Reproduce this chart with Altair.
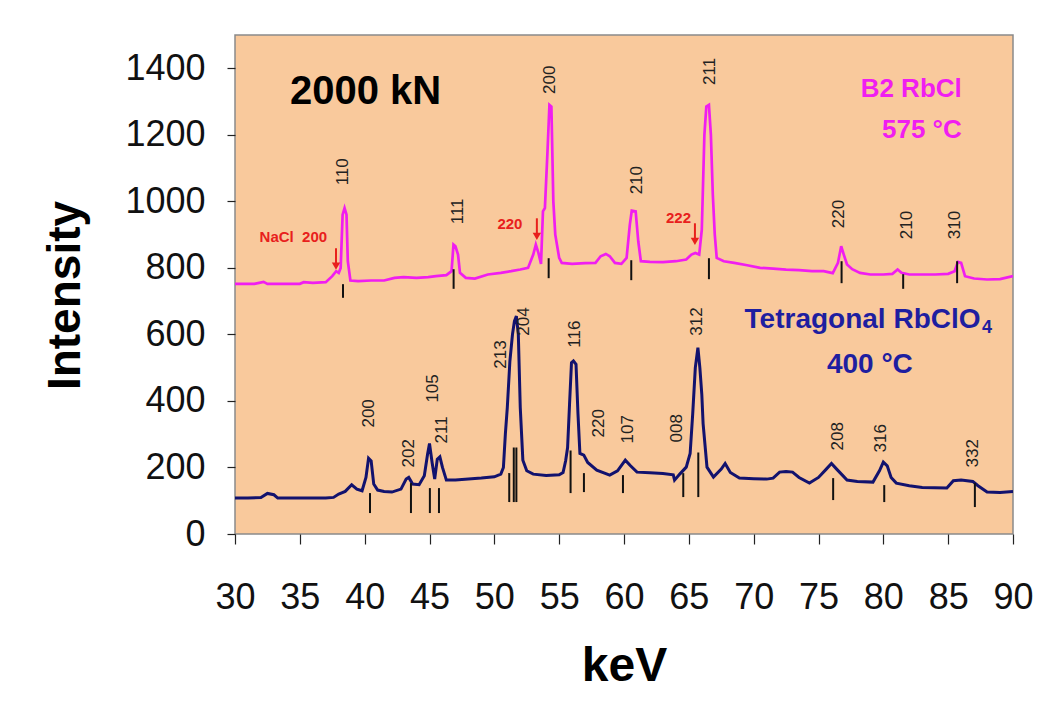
import altair as alt
import pandas as pd

# ---------------- data ----------------
# B2 RbCl, 575 C (magenta)
mag_kev = [30.0, 31.5, 32.2, 32.5, 35.0, 35.3, 36.0, 37.0, 37.5, 37.8, 38.0, 38.15, 38.3, 38.45, 38.6, 38.7, 38.9,
           39.5, 40.5, 41.5, 42.3, 43.0, 44.0, 44.9, 45.5, 46.3, 46.7, 46.85, 47.0, 47.2, 47.35, 47.8, 48.5, 49.5,
           50.5, 51.3, 52.0, 52.6, 53.0, 53.2, 53.4, 53.6, 53.75, 53.9, 54.1, 54.25, 54.4, 54.55, 54.7, 55.0, 55.2,
           56.0, 57.0, 57.8, 58.2, 58.6, 58.9, 59.3, 59.8, 60.2, 60.45, 60.6, 60.9, 61.1, 61.3, 62.0, 63.0, 64.0,
           64.8, 65.2, 65.5, 65.8, 66.0, 66.2, 66.35, 66.55, 66.7, 66.85, 67.0, 67.15, 67.7, 68.5, 69.5, 70.5, 71.5,
           72.5, 73.5, 74.5, 75.4, 76.1, 76.5, 76.75, 76.95, 77.2, 77.6, 78.2, 79.0, 80.0, 80.7, 81.1, 81.4, 82.0,
           83.0, 84.0, 85.0, 85.5, 85.75, 86.0, 86.3, 87.0, 88.0, 89.0, 90.0]
mag_int = [752, 752, 758, 752, 752, 757, 755, 757, 775, 790, 785, 800, 960, 980, 960, 820, 762,
           760, 762, 762, 770, 772, 770, 772, 775, 778, 790, 870, 865, 840, 785, 770, 768, 780,
           785, 790, 795, 800, 840, 870, 845, 812, 970, 980, 1150, 1290, 1285, 1000, 900, 830, 815,
           812, 814, 815, 835, 842, 835, 815, 812, 830, 930, 972, 970, 880, 820, 818, 817, 820,
           825, 840, 845, 840, 915, 1200, 1285, 1290, 1200, 1020, 900, 830, 820, 815, 808, 800, 798,
           795, 793, 790, 790, 784, 815, 865, 840, 810, 796, 785, 780, 780, 782, 795, 785, 780,
           780, 780, 782, 790, 818, 815, 775, 768, 765, 766, 775]

# Tetragonal RbClO4, 400 C (navy)
nav_kev = [30.0, 31.0, 32.0, 32.5, 33.0, 33.3, 35.0, 37.0, 37.6, 38.0, 38.5, 39.0, 39.4, 39.8, 40.1, 40.3, 40.5,
           40.7, 41.0, 41.5, 42.1, 42.8, 43.2, 43.4, 43.7, 44.2, 44.6, 44.85, 45.0, 45.2, 45.4, 45.6, 45.8, 46.0,
           46.3, 47.0, 48.0, 49.0, 50.0, 50.5, 50.7, 50.85, 51.0, 51.2, 51.4, 51.55, 51.7, 51.85, 52.0, 52.2, 52.5,
           53.0, 54.0, 55.0, 55.3, 55.5, 55.65, 55.8, 55.95, 56.1, 56.3, 56.45, 56.6, 56.9, 57.2, 57.9, 58.9, 59.5,
           60.1, 60.5, 61.0, 62.0, 63.0, 63.8, 63.9, 64.3, 64.8, 65.1, 65.3, 65.5, 65.7, 65.85, 66.0, 66.1, 66.4,
           66.9, 67.5, 67.8, 68.2, 68.9, 70.0, 71.0, 71.5, 72.0, 72.5, 73.0, 73.5, 74.3, 75.0, 75.6, 76.0, 76.4,
           77.2, 78.0, 79.2, 79.7, 80.0, 80.3, 80.6, 81.0, 82.0, 83.0, 84.9, 85.4, 86.0, 86.9, 87.3, 88.0, 89.0, 90.0]
nav_int = [108, 108, 110, 122, 118, 108, 108, 108, 110, 120, 128, 148, 135, 130, 170, 228, 220,
           150, 132, 128, 126, 135, 165, 170, 150, 148, 175, 240, 272, 215, 165, 225, 232, 200,
           162, 162, 165, 168, 172, 180, 200, 300, 380, 520, 600, 640, 655, 600, 380, 222, 190,
           180, 176, 178, 185, 220, 260, 390, 515, 520, 510, 362, 242, 237, 215, 192, 177, 190,
           222, 205, 186, 184, 182, 178, 162, 180, 201, 242, 362, 500, 560, 500, 420, 332, 201,
           171, 195, 212, 185, 168, 166, 165, 168, 186, 188, 186, 170, 153, 170, 195, 212, 195,
           162, 158, 156, 190, 216, 205, 170, 153, 145, 140, 138, 160, 162, 158, 145, 126, 125, 128]

# peak labels (centre keV, bottom intensity)
mag_lab_text = ["110", "111", "200", "210", "211", "220", "210", "310"]
mag_lab_kev = [38.3, 47.2, 54.3, 61.0, 66.6, 76.6, 81.8, 85.5]
mag_lab_int = [1048, 931, 1323, 1021, 1350, 919, 886, 886]

nav_lab_text = ["200", "202", "105", "211", "213", "204", "116", "220", "107", "008", "312", "208", "316", "332"]
nav_lab_kev = [40.3, 43.4, 45.3, 46.0, 50.5, 52.3, 56.2, 58.1, 60.3, 64.1, 65.6, 76.5, 79.8, 86.9]
nav_lab_int = [320, 200, 395, 272, 497, 596, 560, 290, 272, 275, 596, 251, 245, 200]

# reflection markers (keV, top, bottom)
mag_tick_kev = [38.33, 46.86, 54.19, 60.56, 66.55, 76.78, 81.53, 85.69]
mag_tick_top = [751, 796, 829, 823, 829, 820, 781, 820]
mag_tick_bot = [710, 737, 769, 763, 766, 754, 737, 754]

nav_tick_kev = [40.41, 43.57, 45.03, 45.73, 51.15, 51.5, 51.7, 55.88, 56.91, 59.92, 64.57, 65.73, 76.13, 80.07, 87.06]
nav_tick_top = [123, 153, 138, 138, 183, 260, 260, 251, 183, 177, 183, 245, 168, 147, 153]
nav_tick_bot = [63, 63, 63, 63, 96, 96, 96, 123, 126, 123, 111, 111, 102, 96, 81]

# red NaCl annotations
red_text = ["NaCl\u00a0\u00a0200", "220", "222"]
red_text_kev = [34.5, 51.2, 64.2]
red_text_int = [893, 931, 949]
red_arrow_kev = [37.79, 53.28, 65.47]
red_arrow_top = [859, 949, 934]
red_arrow_bot = [805, 895, 880]

# ---------------- styling ----------------
FONT = "Liberation Sans, Arial, Helvetica, sans-serif"
MAG = "#F01EF0"
NAVY = "#12126E"
NAVY_TXT = "#1E1EA0"
RED = "#E8201C"

xs = alt.Scale(domain=[30, 90], nice=False, zero=False)
ys = alt.Scale(domain=[0, 1500], nice=False, zero=True)

x_axis = alt.Axis(title="keV", values=list(range(30, 95, 5)), grid=False, domain=False,
                  labelFont=FONT, labelFontSize=36, labelColor="#111", labelPadding=36,
                  labelFlush=False, labelOverlap=False, format="d",
                  tickSize=10, tickColor="#222", tickWidth=1.2,
                  titleFont=FONT, titleFontSize=48, titleFontWeight="bold", titleColor="#000",
                  titleX=389, titleY=132, titleBaseline="middle", titleAlign="center")
y_axis = alt.Axis(title="Intensity", values=list(range(0, 1500, 200)), grid=False, domain=False,
                  labelFont=FONT, labelFontSize=36, labelColor="#111", labelPadding=22,
                  labelFlush=False, labelOverlap=False, format="d",
                  tickSize=8, tickColor="#222", tickWidth=1.2,
                  titleFont=FONT, titleFontSize=46, titleFontWeight="bold", titleColor="#000",
                  titleX=-170, titleY=260, titleAngle=-90, titleBaseline="middle", titleAlign="center")


def X(field):
    return alt.X(field, scale=xs, axis=x_axis)


def Y(field):
    return alt.Y(field, scale=ys, axis=y_axis)


df_m = pd.DataFrame({"kev": mag_kev, "int": mag_int})
df_n = pd.DataFrame({"kev": nav_kev, "int": nav_int})

line_m = alt.Chart(df_m).mark_line(color=MAG, strokeWidth=2.7, clip=True).encode(
    x=X("kev:Q"), y=Y("int:Q"))
line_n = alt.Chart(df_n).mark_line(color=NAVY, strokeWidth=3, clip=True).encode(
    x=X("kev:Q"), y=Y("int:Q"))

ticks = alt.Chart(pd.DataFrame({
    "kev": mag_tick_kev + nav_tick_kev,
    "top": mag_tick_top + nav_tick_top,
    "bot": mag_tick_bot + nav_tick_bot})).mark_rule(color="#111", strokeWidth=2).encode(
    x=X("kev:Q"), y=Y("top:Q"), y2="bot:Q")

labels = alt.Chart(pd.DataFrame({
    "kev": mag_lab_kev + nav_lab_kev,
    "int": mag_lab_int + nav_lab_int,
    "t": mag_lab_text + nav_lab_text})).mark_text(
    angle=270, align="left", baseline="middle", font=FONT, fontSize=17, color="#222").encode(
    x=X("kev:Q"), y=Y("int:Q"), text="t:N")

red_lbl = alt.Chart(pd.DataFrame({"kev": red_text_kev, "int": red_text_int, "t": red_text})).mark_text(
    align="center", baseline="middle", font=FONT, fontSize=15, fontWeight="bold", color=RED).encode(
    x=X("kev:Q"), y=Y("int:Q"), text="t:N")
df_arrow = pd.DataFrame({"kev": red_arrow_kev, "top": red_arrow_top, "bot": red_arrow_bot})
red_shaft = alt.Chart(df_arrow).mark_rule(color=RED, strokeWidth=2).encode(
    x=X("kev:Q"), y=Y("top:Q"), y2="bot:Q")
red_head = alt.Chart(df_arrow).mark_point(shape="triangle-down", filled=True, size=70, color=RED, opacity=1).encode(
    x=X("kev:Q"), y=Y("bot:Q"))

# titles / annotations
ann_text = ["2000 kN", "B2 RbCl", "575 \u00b0C", "Tetragonal RbClO", "4", "400 \u00b0C"]
ann_kev = [34.24, 86.05, 86.05, 69.3, 87.6, 78.96]
ann_int = [1329, 1338, 1213, 644, 620, 509]
ann_color = ["#000000", MAG, MAG, NAVY_TXT, NAVY_TXT, NAVY_TXT]
ann_size = [40, 26, 26, 28, 18, 28]
ann_align = ["left", "right", "right", "left", "left", "center"]

ann_layers = []
for t, k, v, c, s, a in zip(ann_text, ann_kev, ann_int, ann_color, ann_size, ann_align):
    ann_layers.append(
        alt.Chart(pd.DataFrame({"kev": [k], "int": [v], "t": [t]})).mark_text(
            align=a, baseline="middle", font=FONT, fontSize=s, fontWeight="bold", color=c).encode(
            x=X("kev:Q"), y=Y("int:Q"), text="t:N"))

chart = alt.layer(line_m, line_n, ticks, labels, red_lbl, red_shaft, red_head, *ann_layers).properties(
    width=778, height=499,
    padding={"left": 227, "top": 27, "right": 30, "bottom": 160},
    autosize="none",
    background="#FFFFFF",
).configure_view(fill="#F9C99C", stroke="#8A8A8A", strokeWidth=1.5)

chart.save("out.html", embed_options={"renderer": "svg", "actions": False})
